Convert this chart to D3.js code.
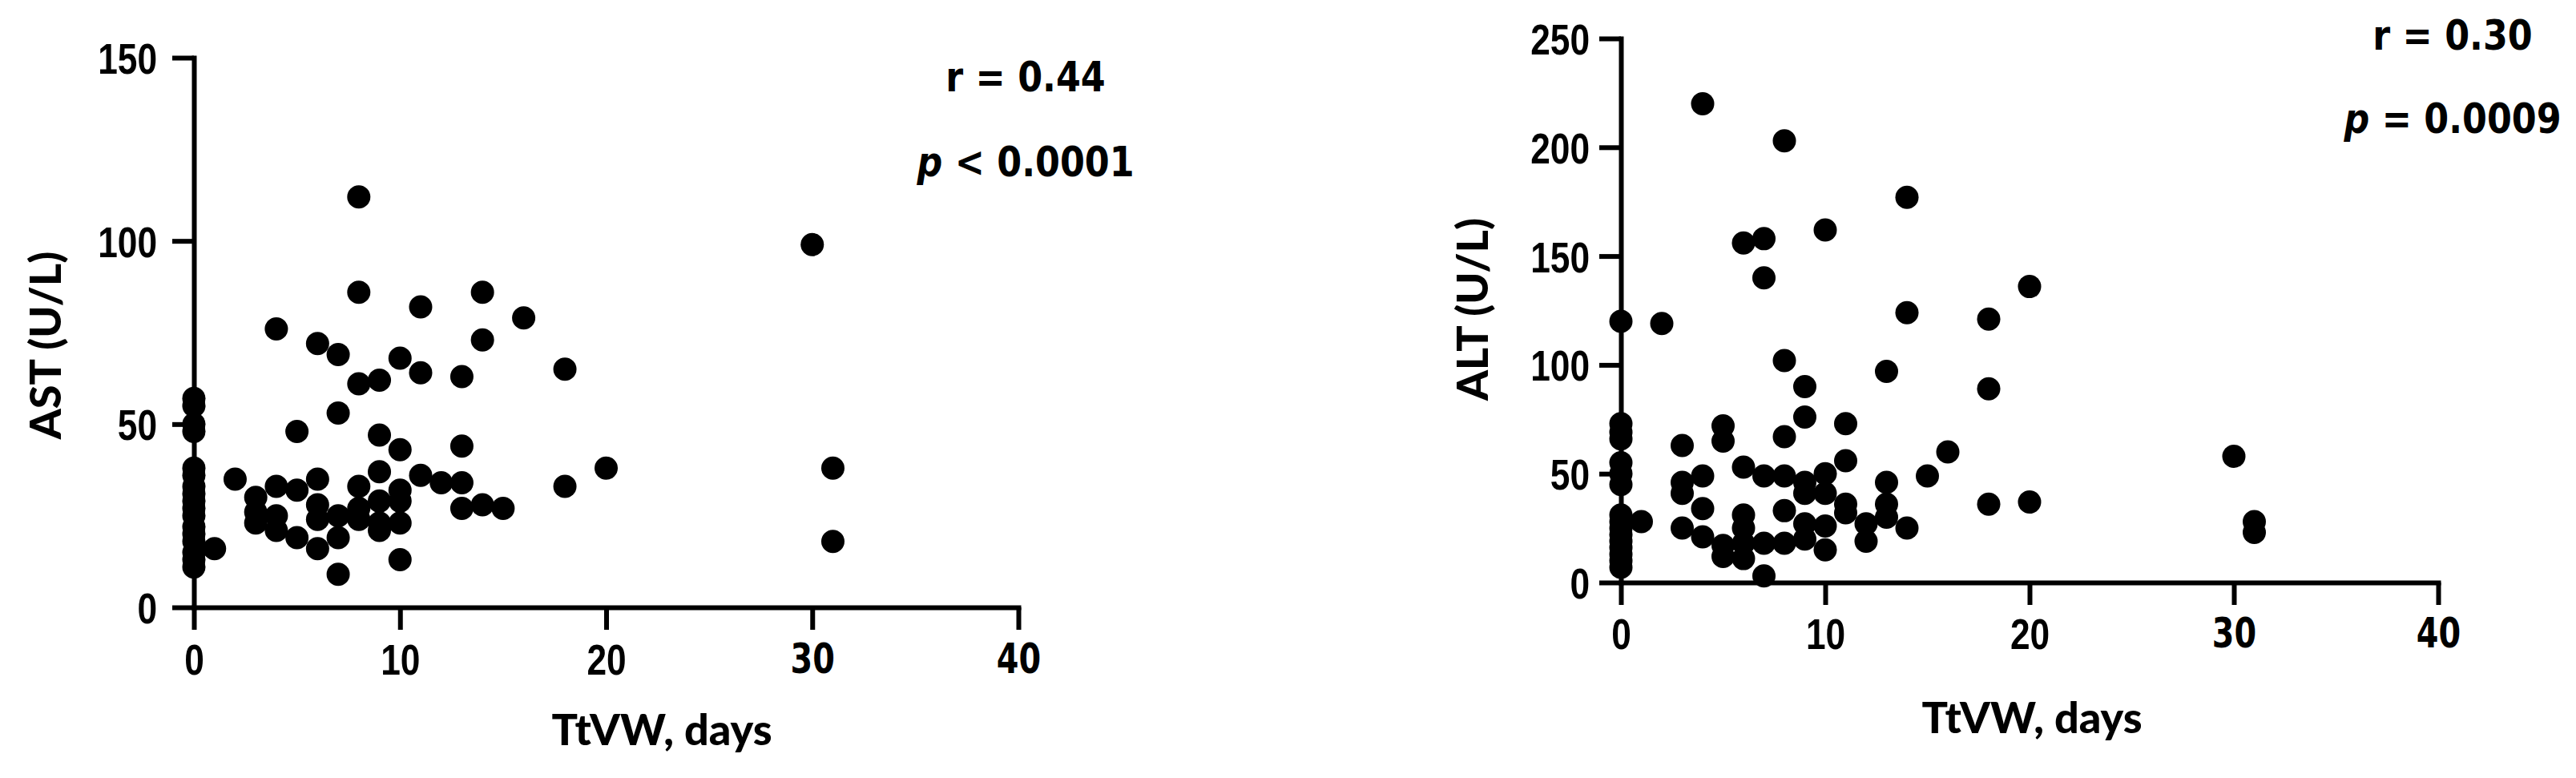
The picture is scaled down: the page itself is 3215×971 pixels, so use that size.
<!DOCTYPE html>
<html>
<head>
<meta charset="utf-8">
<script src="https://cdn.jsdelivr.net/npm/d3@7"></script>
<style>
    body { margin: 0; background: #fff; }
    svg text { fill: #000; white-space: pre; }
</style>
</head>
<body>
<svg id="chart" width="3215" height="971"></svg>
<script>
const xTicks = [0, 10, 20, 30, 40]
const astTicks = [0, 50, 100, 150]
const altTicks = [0, 50, 100, 150, 200, 250]

// TtVW (days) and AST (U/L), one entry per patient
const astDays = [
    0, 0, 0, 0, 0, 0, 0, 0, 0, 0, 0, 0, 0, 0, 0, 0, 0,
    1, 2, 3, 3, 3, 4, 4, 4, 4, 5, 5, 5,
    6, 6, 6, 6, 6, 7, 7, 7, 7, 7,
    8, 8, 8, 8, 8, 8, 9, 9, 9, 9, 9, 9,
    10, 10, 10, 10, 10, 10, 11, 11, 11, 12,
    13, 13, 13, 13, 14, 14, 14, 15, 16, 18, 18, 20, 30, 31, 31
]
const astValues = [
    57, 55, 50, 48, 38, 36, 33, 31, 29, 27, 25, 22, 20, 18, 15, 13, 11,
    16, 35, 30, 26, 23, 76, 33, 25, 21, 48, 32, 19,
    72, 35, 28, 24, 16, 69, 53, 25, 19, 9,
    112, 86, 61, 33, 27, 24, 62, 47, 37, 29, 23, 21,
    68, 43, 32, 29, 23, 13, 82, 64, 36, 34,
    63, 44, 34, 27, 86, 73, 28, 27, 79, 65, 33, 38, 99, 38, 18
]

// TtVW (days) and ALT (U/L)
const altDays = [
    0, 0, 0, 0, 0, 0, 0, 0, 0, 0, 0, 0, 0, 0, 0, 0,
    1, 2, 3, 3, 3, 3, 4, 4, 4, 4, 5, 5, 5, 5,
    6, 6, 6, 6, 6, 6, 7, 7, 7, 7, 7,
    8, 8, 8, 8, 8, 8, 9, 9, 9, 9, 9, 9,
    10, 10, 10, 10, 10, 11, 11, 11, 11, 12, 12,
    13, 13, 13, 13, 14, 14, 14, 15, 16, 18, 18, 18, 20, 20, 30, 31, 31
]
const altValues = [
    120, 73, 69, 66, 55, 50, 45, 31, 28, 25, 22, 19, 16, 13, 10, 7,
    28, 119, 63, 46, 41, 25, 220, 49, 34, 21, 72, 65, 17, 12,
    156, 53, 31, 25, 18, 11, 158, 140, 49, 18, 3,
    203, 102, 67, 49, 33, 18, 90, 76, 46, 41, 27, 20,
    162, 50, 41, 26, 15, 73, 56, 36, 32, 27, 19,
    97, 46, 36, 30, 177, 124, 25, 49, 60, 121, 89, 36, 136, 37, 58, 28, 23
]

const SQUEEZE = 0.87
const NARROW = 0.82

const svg = d3.select('#chart')

const panels = [
    {
        days: astDays, values: astValues, yTicks: astTicks, yLabel: 'AST (U/L)',
        rText: 'r = 0.44', pText: ' < 0.0001',
        xRange: [242, 1271], yRange: [758, 72],
        yTickPad: 19, xTickPad: 18,
        xLabelPos: [826, 930], yLabelPos: [76, 431],
        statX: 1280, rY: 114, pY: 220
    },
    {
        days: altDays, values: altValues, yTicks: altTicks, yLabel: 'ALT (U/L)',
        rText: 'r = 0.30', pText: ' = 0.0009',
        xRange: [2023, 3043], yRange: [727, 48],
        yTickPad: 12, xTickPad: 17,
        xLabelPos: [2536, 915], yLabelPos: [1857, 386],
        statX: 3061, rY: 62, pY: 166
    }
]

panels.forEach(drawPanel)

function styleAxis(axis) {
    axis.select('.domain')
        .attr('stroke-width', 6)
        .attr('stroke-linecap', 'square')
    axis.selectAll('.tick line').attr('stroke-width', 6)
    axis.selectAll('.tick text')
        .attr('font-family', '"Liberation Sans", Arial, sans-serif')
        .attr('font-weight', 'bold')
        .attr('font-size', 54)
}

function drawPanel(p) {
    const x = d3.scaleLinear().domain([0, 40]).range(p.xRange)
    const y = d3.scaleLinear().domain([0, d3.max(p.yTicks)]).range(p.yRange)

    const g = svg.append('g')

    const xAxis = g.append('g')
        .attr('transform', `translate(0,${p.yRange[0]})`)
        .call(d3.axisBottom(x).tickValues(xTicks).tickSize(28).tickSizeOuter(0).tickPadding(p.xTickPad))
    const yAxis = g.append('g')
        .attr('transform', `translate(${p.xRange[0]},0)`)
        .call(d3.axisLeft(y).tickValues(p.yTicks).tickSize(27).tickSizeOuter(0).tickPadding(p.yTickPad))

    styleAxis(xAxis)
    styleAxis(yAxis)

    yAxis.selectAll('.tick text')
        .attr('dy', '0.36em')
        .each(function () {
            const t = d3.select(this)
            t.attr('transform', `translate(${t.attr('x')},0) scale(${NARROW},1)`).attr('x', 0)
        })

    xAxis.selectAll('.tick text')
        .attr('transform', `scale(${NARROW},1)`)
        .filter(d => d >= 30)
        .attr('font-family', '"DejaVu Sans", Verdana, sans-serif')
        .attr('font-size', 51)
        .attr('transform', 'scale(0.78,1)')

    g.append('g')
        .selectAll('circle')
        .data(d3.zip(p.days, p.values))
        .join('circle')
        .attr('cx', d => x(d[0]))
        .attr('cy', d => y(d[1]))
        .attr('r', 14.5)
        .attr('fill', '#000')

    g.append('text')
        .attr('transform', `translate(${p.xLabelPos})`)
        .attr('text-anchor', 'middle')
        .attr('font-family', 'Lato, sans-serif')
        .attr('font-weight', 900)
        .attr('font-size', 54)
        .text('TtVW, days')

    g.append('text')
        .attr('transform', `translate(${p.yLabelPos}) rotate(-90)`)
        .attr('text-anchor', 'middle')
        .attr('font-family', 'Lato, sans-serif')
        .attr('font-weight', 900)
        .attr('font-size', 54)
        .text(p.yLabel)

    g.append('text')
        .attr('transform', `translate(${p.statX},${p.rY}) scale(${SQUEEZE},1)`)
        .attr('text-anchor', 'middle')
        .attr('font-family', '"DejaVu Sans", Verdana, sans-serif')
        .attr('font-weight', 'bold')
        .attr('font-size', 51)
        .text(p.rText)

    const pLine = g.append('text')
        .attr('transform', `translate(${p.statX},${p.pY}) scale(${SQUEEZE},1)`)
        .attr('text-anchor', 'middle')
        .attr('font-family', '"DejaVu Sans", Verdana, sans-serif')
        .attr('font-weight', 'bold')
        .attr('font-size', 51)
    pLine.append('tspan').attr('font-style', 'italic').text('p')
    pLine.append('tspan').text(p.pText)
}
</script>
</body>
</html>
